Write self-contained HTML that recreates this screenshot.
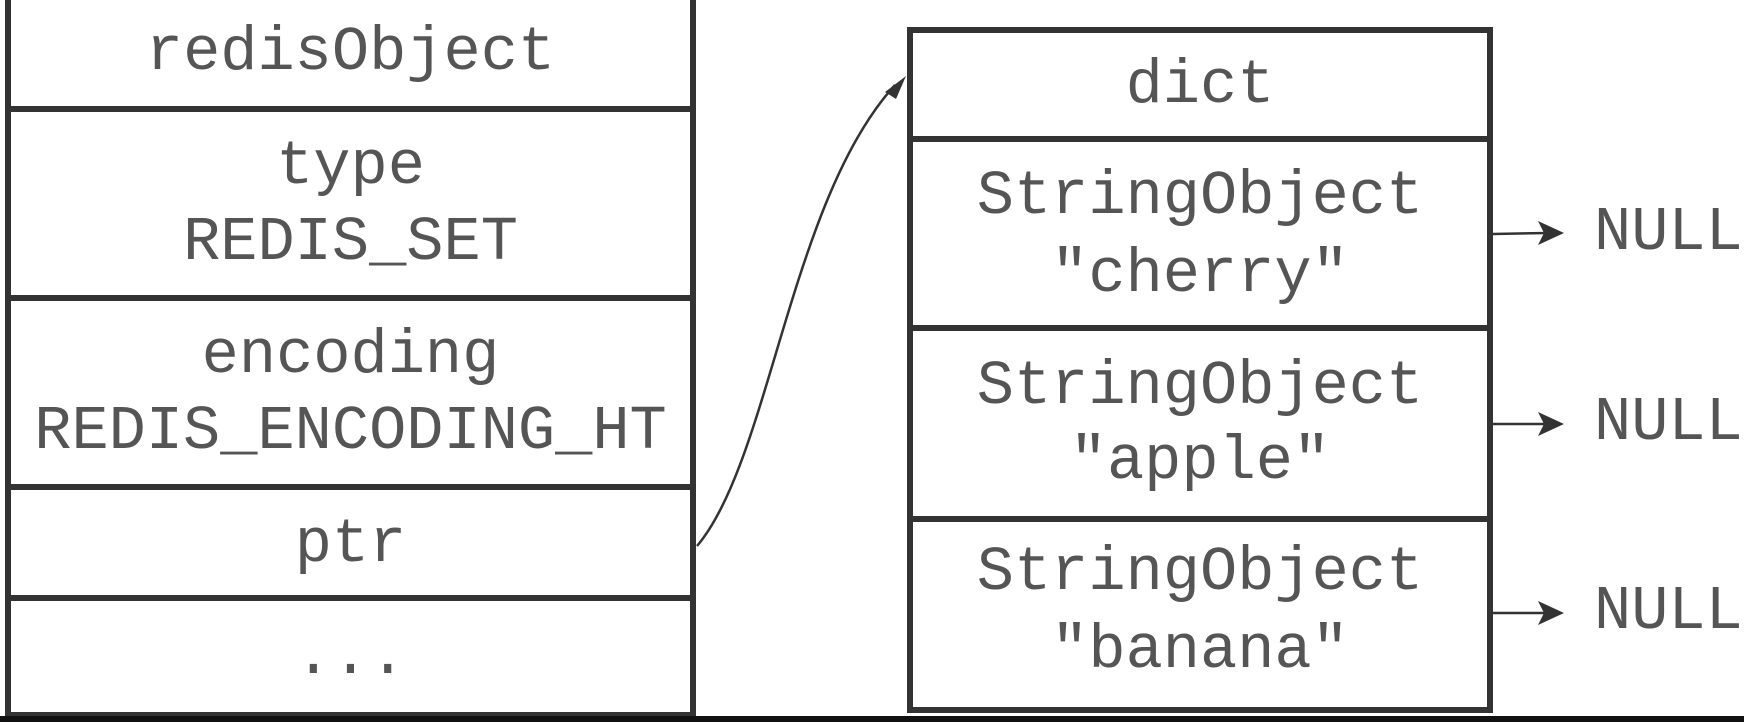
<!DOCTYPE html>
<html><head><style>
html,body{margin:0;padding:0;background:#fff;}
body{width:1744px;height:722px;position:relative;overflow:hidden;}
.t{position:absolute;font-family:"Liberation Mono","Courier New",monospace;font-size:62px;color:#555;white-space:pre;text-align:center;line-height:1;}
</style></head><body>
<svg width="1744" height="722" style="position:absolute;left:0;top:0">
<g fill="none" stroke="#333" stroke-width="6">
<rect x="8" y="-5" width="685" height="720"/>
<line x1="8" y1="109" x2="693" y2="109"/>
<line x1="8" y1="298" x2="693" y2="298"/>
<line x1="8" y1="487" x2="693" y2="487"/>
<line x1="8" y1="598" x2="693" y2="598"/>
<rect x="910" y="30" width="580" height="680"/>
<line x1="910" y1="139" x2="1490" y2="139"/>
<line x1="910" y1="328" x2="1490" y2="328"/>
<line x1="910" y1="519" x2="1490" y2="519"/>
</g>
<rect x="0" y="716" width="1744" height="6" fill="#111"/>
<g stroke="#333" stroke-width="2.5" fill="none">
<path d="M697 546 C770 460, 790 200, 895 85"/>
<line x1="1493" y1="234" x2="1548" y2="233"/>
<line x1="1493" y1="424" x2="1548" y2="424"/>
<line x1="1493" y1="613" x2="1548" y2="613"/>
</g>
<g fill="#333">
<polygon points="906,76 885,92 896,99"/>
<polygon points="1564,233 1538,221 1544,233 1538,245"/>
<polygon points="1564,424 1538,412 1544,424 1538,436"/>
<polygon points="1564,613 1538,601 1544,613 1538,625"/>
</g>
</svg>
<div class="t" style="left:8px;width:685px;top:22px">redisObject</div>
<div class="t" style="left:8px;width:685px;top:136px">type</div>
<div class="t" style="left:8px;width:685px;top:212px">REDIS_SET</div>
<div class="t" style="left:8px;width:685px;top:325px">encoding</div>
<div class="t" style="left:8px;width:685px;top:401px">REDIS_ENCODING_HT</div>
<div class="t" style="left:8px;width:685px;top:514px">ptr</div>
<div class="t" style="left:8px;width:685px;top:626px">...</div>
<div class="t" style="left:910px;width:580px;top:55px">dict</div>
<div class="t" style="left:910px;width:580px;top:166px">StringObject</div>
<div class="t" style="left:910px;width:580px;top:244px">"cherry"</div>
<div class="t" style="left:910px;width:580px;top:356px">StringObject</div>
<div class="t" style="left:910px;width:580px;top:431px">"apple"</div>
<div class="t" style="left:910px;width:580px;top:542px">StringObject</div>
<div class="t" style="left:910px;width:580px;top:620px">"banana"</div>
<div class="t" style="left:1594px;top:202px">NULL</div>
<div class="t" style="left:1594px;top:392px">NULL</div>
<div class="t" style="left:1594px;top:581px">NULL</div>
</body></html>
